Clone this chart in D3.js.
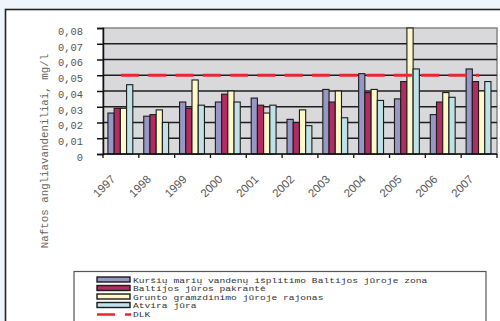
<!DOCTYPE html>
<html>
<head>
<meta charset="utf-8">
<script src="https://cdn.jsdelivr.net/npm/d3@7"></script>
<style>
  html, body { margin: 0; padding: 0; background: #eef6fb; }
  svg { display: block; }
</style>
</head>
<body>
<svg id="chart" width="500" height="321"></svg>
<script>
// Years shown on the category axis
const years = ["1997","1998","1999","2000","2001","2002","2003","2004","2005","2006","2007"];

// Oil hydrocarbon concentrations, mg/l, per monitoring area
const kursiuZona   = [0.026, 0.024, 0.033, 0.033, 0.0355, 0.022, 0.041, 0.051, 0.035, 0.025, 0.054];
const pakrante     = [0.029, 0.025, 0.029, 0.038, 0.031, 0.020, 0.033, 0.039, 0.046, 0.033, 0.046];
const gruntoRajon  = [0.029, 0.028, 0.047, 0.040, 0.026, 0.028, 0.040, 0.041, 0.080, 0.039, 0.040];
const atviraJura   = [0.044, 0.020, 0.031, 0.033, 0.031, 0.018, 0.023, 0.034, 0.054, 0.036, 0.046];

// Permissible concentration (DLK)
const dlk = [0.05, 0.05, 0.05, 0.05, 0.05, 0.05, 0.05, 0.05, 0.05, 0.05, 0.05];

const seriesNames = [
  "Kuršių marių vandenų išplitimo Baltijos jūroje zona",
  "Baltijos jūros pakrantė",
  "Grunto gramzdinimo jūroje rajonas",
  "Atvira jūra"
];
const dlkName = "DLK";
const yTicks = [0, 0.01, 0.02, 0.03, 0.04, 0.05, 0.06, 0.07, 0.08];
const yTitle = "Naftos angliavandeniliai, mg/l";

const seriesValues = [kursiuZona, pakrante, gruntoRajon, atviraJura];
const colors = ["#9797c6", "#b22c62", "#fff9c9", "#bfe2e9"];

const svg = d3.select("#chart");

// Chart frame
svg.append("rect")
  .attr("x", 5.5).attr("y", 9.5)
  .attr("width", 510).attr("height", 330)
  .attr("fill", "#ffffff")
  .attr("stroke", "#222").attr("stroke-width", 1.6);

const plot = { left: 103, right: 497, top: 28, bottom: 154 };

const x = d3.scaleBand().domain(years).range([plot.left, plot.right]).paddingInner(0).paddingOuter(0);
const xs = d3.scaleBand().domain(d3.range(seriesNames.length)).range([0, x.bandwidth()])
  .paddingInner(0).paddingOuter(0.88).align(0.45);
const y = d3.scaleLinear().domain([0, 0.08]).range([plot.bottom, plot.top]);

// Plot background
svg.append("rect")
  .attr("x", plot.left).attr("y", plot.top)
  .attr("width", plot.right - plot.left).attr("height", plot.bottom - plot.top)
  .attr("fill", "#d9d9db")
  .attr("stroke", "#858585").attr("stroke-width", 1.5);

// Horizontal gridlines
svg.append("g")
  .selectAll("line")
  .data(yTicks.filter(t => t > 0 && t < 0.08))
  .join("line")
  .attr("x1", plot.left).attr("x2", plot.right)
  .attr("y1", d => y(d)).attr("y2", d => y(d))
  .attr("stroke", "#1e1e1e").attr("stroke-width", 1.3);

// Bars
const groups = svg.append("g")
  .selectAll("g")
  .data(years)
  .join("g")
  .attr("transform", d => `translate(${x(d)},0)`);

groups.selectAll("rect")
  .data((yr, i) => seriesValues.map((vals, s) => ({ s, v: vals[i] })))
  .join("rect")
  .attr("x", d => xs(d.s))
  .attr("width", xs.bandwidth())
  .attr("y", d => y(d.v))
  .attr("height", d => y(0) - y(d.v))
  .attr("fill", d => colors[d.s])
  .attr("stroke", "#1b1b1b").attr("stroke-width", 1.1);

// DLK line
const dlkLine = d3.line()
  .x((d, i) => x(years[i]) + x.bandwidth() / 2)
  .y(d => y(d));
svg.append("path")
  .datum(dlk)
  .attr("d", dlkLine)
  .attr("fill", "none")
  .attr("stroke", "#e8282e")
  .attr("stroke-width", 3)
  .attr("stroke-dasharray", "18,9.3");

// Y axis
const yAxis = d3.axisLeft(y)
  .tickValues(yTicks)
  .tickSize(6)
  .tickPadding(14)
  .tickFormat(d => d === 0 ? "0" : d3.format(".2f")(d).replace(".", ","));
const gy = svg.append("g").attr("transform", `translate(${plot.left},0)`).call(yAxis);
gy.select(".domain").attr("stroke", "#111").attr("stroke-width", 1.5);
gy.selectAll(".tick line").attr("stroke", "#111").attr("stroke-width", 1.5);
gy.selectAll(".tick text")
  .attr("font-family", "'Liberation Mono', 'DejaVu Sans Mono', monospace")
  .attr("font-size", 10.4)
  .attr("fill", "#555")
  .attr("dy", "0.62em");

// X axis: ticks between categories
svg.append("line")
  .attr("x1", plot.left).attr("x2", plot.right)
  .attr("y1", plot.bottom).attr("y2", plot.bottom)
  .attr("stroke", "#111").attr("stroke-width", 1.5);
svg.append("g")
  .selectAll("line")
  .data(years.concat(["end"]))
  .join("line")
  .attr("x1", (d, i) => plot.left + i * x.step())
  .attr("x2", (d, i) => plot.left + i * x.step())
  .attr("y1", plot.bottom).attr("y2", plot.bottom + 4)
  .attr("stroke", "#111").attr("stroke-width", 1.3);

svg.append("g")
  .selectAll("text")
  .data(years)
  .join("text")
  .attr("transform", d => `translate(${x(d) + x.bandwidth() / 2 - 5},${plot.bottom + 26}) rotate(-45)`)
  .attr("text-anchor", "end")
  .attr("font-family", "'Liberation Sans', Arial, sans-serif")
  .attr("font-size", 11.5)
  .attr("fill", "#555")
  .text(d => d);

// Y axis title
svg.append("text")
  .attr("transform", `translate(48,151) rotate(-90)`)
  .attr("text-anchor", "middle")
  .attr("font-family", "'Liberation Mono', 'DejaVu Sans Mono', monospace")
  .attr("font-size", 10.8)
  .attr("fill", "#666")
  .text(yTitle);

// Legend
const lg = { x: 74, y: 271.5, right: 486 };
svg.append("rect")
  .attr("x", lg.x).attr("y", lg.y)
  .attr("width", lg.right - lg.x).attr("height", 80)
  .attr("fill", "#ffffff")
  .attr("stroke", "#555").attr("stroke-width", 1.2);

const rowH = 8.5;
const charW = 5.77;
const legendItems = seriesNames.map((n, i) => ({ name: n, color: colors[i], kind: "bar" }))
  .concat([{ name: dlkName, color: "#e8282e", kind: "line" }]);

const items = svg.append("g")
  .selectAll("g")
  .data(legendItems)
  .join("g")
  .attr("transform", (d, i) => `translate(97,${277 + i * rowH})`);

items.filter(d => d.kind === "bar").append("rect")
  .attr("x", 0).attr("y", 0)
  .attr("width", 33).attr("height", 5)
  .attr("fill", d => d.color)
  .attr("stroke", "#1b1b1b").attr("stroke-width", 1.4);

items.filter(d => d.kind === "line").append("line")
  .attr("x1", 0).attr("x2", 34)
  .attr("y1", 3.5).attr("y2", 3.5)
  .attr("stroke", d => d.color)
  .attr("stroke-width", 2.5)
  .attr("stroke-dasharray", "18,10");

// Compact monospace rows, stretched to the same character pitch
items.append("text")
  .attr("x", 36).attr("y", 5.6)
  .attr("font-family", "'Liberation Mono', 'DejaVu Sans Mono', monospace")
  .attr("font-size", 7.4)
  .attr("textLength", d => d.name.length * charW)
  .attr("lengthAdjust", "spacingAndGlyphs")
  .attr("fill", "#333")
  .text(d => d.name);
</script>
</body>
</html>
